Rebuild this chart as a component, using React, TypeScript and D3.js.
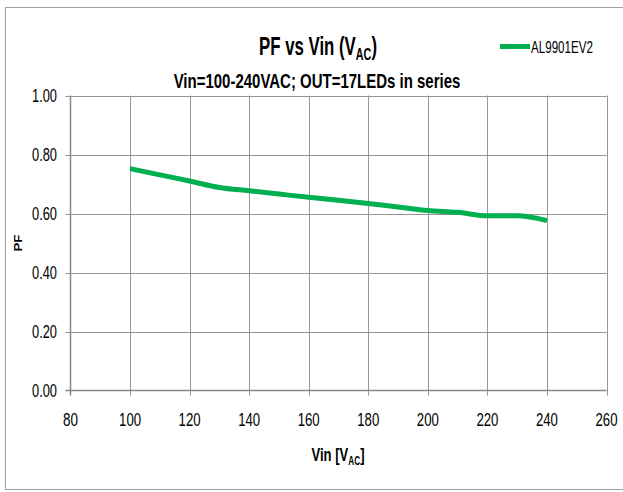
import React, { useEffect, useRef } from "react";
import * as d3 from "d3";

const vin = [100, 110, 120, 130, 140, 150, 160, 170, 180, 190, 200, 210, 220, 230, 240];
const pf = [0.752, 0.731, 0.710, 0.688, 0.677, 0.666, 0.655, 0.645, 0.634, 0.622, 0.610, 0.604, 0.592, 0.592, 0.576];
const xTicks = [80, 100, 120, 140, 160, 180, 200, 220, 240, 260];
const yTicks = [0, 0.2, 0.4, 0.6, 0.8, 1.0];
const seriesName = "AL9901EV2";

const FONT = "'Liberation Sans', Arial, sans-serif";

// horizontally compress a text element so its width becomes `target`, anchored at (ax)
function fit(sel: any, target: number, ax: number) {
  const node = sel.node() as SVGTextElement;
  const w = node.getBBox().width;
  if (w > 0) {
    const s = target / w;
    sel.attr("transform", `translate(${ax},0) scale(${s},1) translate(${-ax},0)`);
  }
}

export default function App() {
  const ref = useRef<SVGSVGElement>(null);
  useEffect(() => {
    const svg = d3.select(ref.current);
    svg.selectAll("*").remove();
    const W = 623, H = 492;
    const x = d3.scaleLinear().domain([80, 260]).range([70.5, 606.5]);
    const y = d3.scaleLinear().domain([0, 1]).range([390.5, 95.5]);

    svg.append("rect").attr("x", 0).attr("y", 0).attr("width", W).attr("height", H).attr("fill", "white");
    svg.append("rect").attr("x", 5.5).attr("y", 7.5).attr("width", 620).attr("height", 482)
      .attr("fill", "none").attr("stroke", "#a0a0a0").attr("stroke-width", 1);

    // grid
    const g = svg.append("g");
    xTicks.slice(1).forEach((t) => {
      g.append("line").attr("x1", Math.round(x(t)) + 0.5).attr("x2", Math.round(x(t)) + 0.5)
        .attr("y1", y(1)).attr("y2", y(0) + 5).attr("stroke", "#969696").attr("stroke-width", 1);
    });
    yTicks.slice(1).forEach((t) => {
      g.append("line").attr("x1", x(80) - 5).attr("x2", x(260))
        .attr("y1", Math.round(y(t)) + 0.5).attr("y2", Math.round(y(t)) + 0.5)
        .attr("stroke", "#969696").attr("stroke-width", 1);
    });
    // axes
    g.append("line").attr("x1", x(80)).attr("x2", x(80)).attr("y1", y(1)).attr("y2", y(0) + 5)
      .attr("stroke", "#868686").attr("stroke-width", 1.5);
    g.append("line").attr("x1", x(80) - 5).attr("x2", x(260)).attr("y1", y(0)).attr("y2", y(0))
      .attr("stroke", "#868686").attr("stroke-width", 1.5);

    // tick labels
    xTicks.forEach((t) => {
      const tx = svg.append("text").attr("x", x(t)).attr("y", 426).attr("text-anchor", "middle")
        .attr("font-family", FONT).attr("font-size", 18).attr("fill", "#000").text(String(t));
      fit(tx, String(t).length === 2 ? 15 : 22, x(t));
    });
    yTicks.forEach((t) => {
      const ty = svg.append("text").attr("x", 57).attr("y", y(t) + 6.5).attr("text-anchor", "end")
        .attr("font-family", FONT).attr("font-size", 18).attr("fill", "#000").text(t.toFixed(2));
      fit(ty, 25, 57);
    });

    // line
    const line = d3.line<number>().x((_, i) => x(vin[i])).y((d) => y(d)).curve(d3.curveMonotoneX);
    svg.append("path").datum(pf).attr("d", line).attr("fill", "none")
      .attr("stroke", "#00B050").attr("stroke-width", 5).attr("stroke-linejoin", "round");

    // titles
    const title = svg.append("text").attr("x", 318).attr("y", 55).attr("text-anchor", "middle")
      .attr("font-family", FONT).attr("font-size", 25).attr("font-weight", "bold").attr("fill", "#000");
    title.append("tspan").text("PF vs Vin (V");
    title.append("tspan").attr("font-size", 16).attr("dy", 5).text("AC");
    title.append("tspan").attr("dy", -5).text(")");
    fit(title, 118, 318);

    const sub = svg.append("text").attr("x", 317).attr("y", 88).attr("text-anchor", "middle")
      .attr("font-family", FONT).attr("font-size", 20).attr("font-weight", "bold").attr("fill", "#000")
      .text("Vin=100-240VAC; OUT=17LEDs in series");
    fit(sub, 287, 317);

    // legend
    svg.append("line").attr("x1", 500).attr("x2", 530).attr("y1", 46.5).attr("y2", 46.5)
      .attr("stroke", "#00B050").attr("stroke-width", 5);
    const lt = svg.append("text").attr("x", 531).attr("y", 53).attr("font-family", FONT).attr("font-size", 16)
      .attr("fill", "#000").text(seriesName);
    fit(lt, 62, 531);

    // axis titles
    const xl = svg.append("text").attr("x", 338).attr("y", 461).attr("text-anchor", "middle")
      .attr("font-family", FONT).attr("font-size", 19).attr("font-weight", "bold").attr("fill", "#000");
    xl.append("tspan").text("Vin [V");
    xl.append("tspan").attr("font-size", 12).attr("dy", 4).text("AC");
    xl.append("tspan").attr("dy", -4).text("]");
    fit(xl, 53, 338);

    svg.append("text").attr("transform", "translate(21.5,243) rotate(-90)").attr("text-anchor", "middle")
      .attr("font-family", FONT).attr("font-size", 11).attr("font-weight", "bold").attr("fill", "#000")
      .attr("textLength", 17).attr("lengthAdjust", "spacingAndGlyphs")
      .text("PF");
  }, []);
  return (
    <svg ref={ref} width={623} height={492} style={{ position: "absolute", left: 0, top: 0 }} />
  );
}
